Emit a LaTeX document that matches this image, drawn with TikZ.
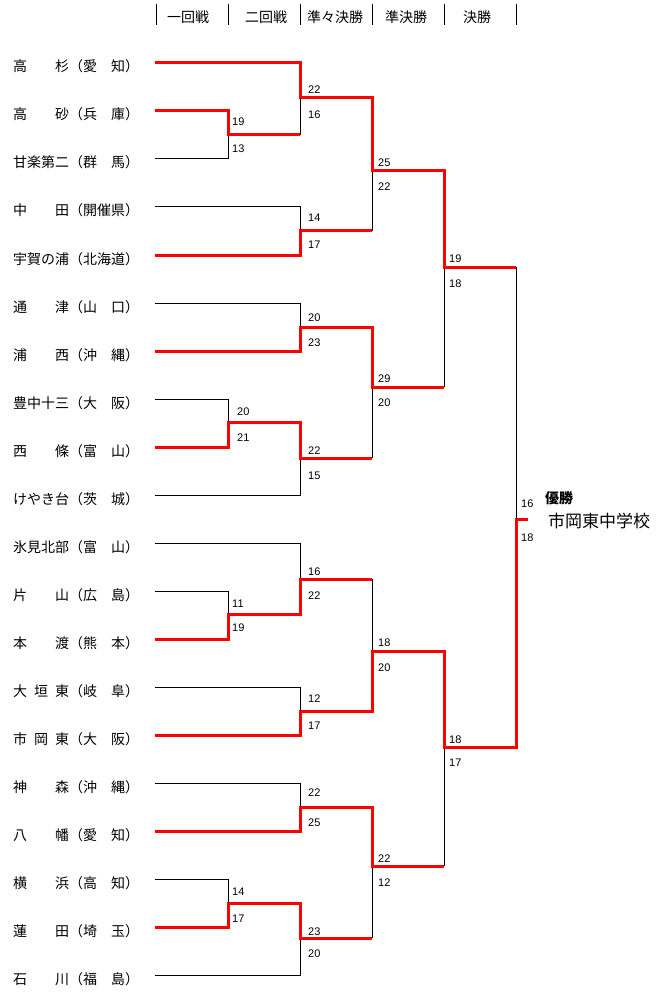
\documentclass[tikz,border=0pt]{standalone}
\usepackage{fontspec}
\newfontfamily\jp[Kerning=Off]{Noto Sans CJK JP}
\newfontfamily\num{Liberation Sans}
\begin{document}
\begin{tikzpicture}[x=1pt,y=-1pt,
  team/.style={font=\jp\fontsize{14}{14}\selectfont, inner sep=0pt, anchor=base west},
  head/.style={font=\jp\fontsize{14}{14}\selectfont, inner sep=0pt, anchor=base},
  score/.style={font=\num\fontsize{11}{11}\selectfont, inner sep=0pt, anchor=base west},
  champ/.style={font=\jp\bfseries\fontsize{14}{14}\selectfont, inner sep=0pt, anchor=base west},
  champname/.style={font=\jp\fontsize{17}{17}\selectfont, inner sep=0pt, anchor=base west},
  lose/.style={line width=1pt, black},
  win/.style={line width=3pt, red, line join=miter},
  bar/.style={line width=1pt, black}
]
\useasboundingbox (0,0) rectangle (670,1000);

% header
\foreach \i/\x in {1/156,2/228,3/300,4/372,5/444,6/516}{
  \coordinate (ht\i) at (\x,4);
  \coordinate (hb\i) at (\x,25);
  \draw[bar] (ht\i) -- (hb\i);
}
\node[head] (h1) at (188,23) {一回戦};
\node[head] (h2) at (266,23) {二回戦};
\node[head] (h3) at (335,23) {準々決勝};
\node[head] (h4) at (406,23) {準決勝};
\node[head] (h5) at (477,23) {決勝};

% teams
\foreach \i/\y/\x/\t in {
  0/63/300/{高　　杉（愛　知）},
  1/111/228/{高　　砂（兵　庫）},
  2/159/228/{甘楽第二（群　馬）},
  3/207/300/{中　　田（開催県）},
  4/255/300/{宇賀の浦（北海道）},
  5/303/300/{通　　津（山　口）},
  6/351/300/{浦　　西（沖　縄）},
  7/399/228/{豊中十三（大　阪）},
  8/447/228/{西　　條（富　山）},
  9/495/300/{けやき台（茨　城）},
  10/543/300/{氷見北部（富　山）},
  11/591/228/{片　　山（広　島）},
  12/639/228/{本　　渡（熊　本）},
  13/687/300/{大\hspace{7pt}垣\hspace{7pt}東（岐　阜）},
  14/735/300/{市\hspace{7pt}岡\hspace{7pt}東（大　阪）},
  15/783/300/{神　　森（沖　縄）},
  16/831/300/{八　　幡（愛　知）},
  17/879/228/{横　　浜（高　知）},
  18/927/228/{蓮　　田（埼　玉）},
  19/975/300/{石　　川（福　島）}}{
  \node[team] (n\i) at (13,\y+9) {\t};
  \coordinate (a\i) at (155,\y);
  \coordinate (b\i) at (\x,\y);
}

% junctions
\foreach \m/\x/\y/\nx in {A/228/135/300, B/228/422/300, C/228/614/300, D/228/903/300,
  E/300/98/372, F/300/231/372, G/300/327/372, H/300/458/372,
  I/300/579/372, J/300/711/372, K/300/807/372, L/300/938/372,
  M/372/171/444, N/372/387/444, O/372/651/444, P/372/866/444,
  Q/444/267/516, R/444/747/516, W/516/519/528}{
  \coordinate (j\m) at (\x,\y);
  \coordinate (o\m) at (\nx,\y);
}

% losers (black)
\draw[lose] (a2) -- (b2) -- (jA);
\draw[lose] (a3) -- (b3) -- (jF);
\draw[lose] (a5) -- (b5) -- (jG);
\draw[lose] (a7) -- (b7) -- (jB);
\draw[lose] (a9) -- (b9) -- (jH);
\draw[lose] (a10) -- (b10) -- (jI);
\draw[lose] (a11) -- (b11) -- (jC);
\draw[lose] (a13) -- (b13) -- (jJ);
\draw[lose] (a15) -- (b15) -- (jK);
\draw[lose] (a17) -- (b17) -- (jD);
\draw[lose] (a19) -- (b19) -- (jL);
\draw[lose] (oA) -- (jE);
\draw[lose] (oF) -- (jM);
\draw[lose] (oH) -- (jN);
\draw[lose] (oI) -- (jO);
\draw[lose] (oL) -- (jP);
\draw[lose] (oN) -- (jQ);
\draw[lose] (oP) -- (jR);
\draw[lose] (oQ) -- (jW);

% winners (red)
\draw[win] (a0) -- (b0) -- (jE) -- (oE) -- (jM) -- (oM) -- (jQ) -- (oQ);
\draw[win] (a1) -- (b1) -- (jA) -- (oA);
\draw[win] (a4) -- (b4) -- (jF) -- (oF);
\draw[win] (a6) -- (b6) -- (jG) -- (oG) -- (jN) -- (oN);
\draw[win] (a8) -- (b8) -- (jB) -- (oB) -- (jH) -- (oH);
\draw[win] (a12) -- (b12) -- (jC) -- (oC) -- (jI) -- (oI);
\draw[win] (a14) -- (b14) -- (jJ) -- (oJ) -- (jO) -- (oO) -- (jR) -- (oR) -- (jW) -- (oW);
\draw[win] (a16) -- (b16) -- (jK) -- (oK) -- (jP) -- (oP);
\draw[win] (a18) -- (b18) -- (jD) -- (oD) -- (jL) -- (oL);

% scores
\foreach \k/\x/\y/\s in {
  1/232/122/19, 2/232/149/13, 3/237/411/20, 4/237/437/21,
  5/232/603/11, 6/232/627/19, 7/232/891/14, 8/232/918/17,
  9/308/90/22, 10/308/115/16, 11/308/218/14, 12/308/244/17,
  13/308/317/20, 14/308/342/23, 15/308/450/22, 16/308/475/15,
  17/308/571/16, 18/308/595/22, 19/308/698/12, 20/308/725/17,
  21/308/792/22, 22/308/822/25, 23/308/931/23, 24/308/953/20,
  25/378/163/25, 26/378/187/22, 27/378/378/29, 28/378/402/20,
  29/378/642/18, 30/378/667/20, 31/378/858/22, 32/378/882/12,
  33/449/258/19, 34/449/283/18, 35/449/739/18, 36/449/762/17,
  37/521/503/16, 38/521/537/18}{
  \node[score] (sc\k) at (\x,\y+4) {\s};
}

% champion
\node[champ] (yusho) at (545,503) {優勝};
\node[champname] (winner) at (548,527) {市岡東中学校};
\end{tikzpicture}
\end{document}
